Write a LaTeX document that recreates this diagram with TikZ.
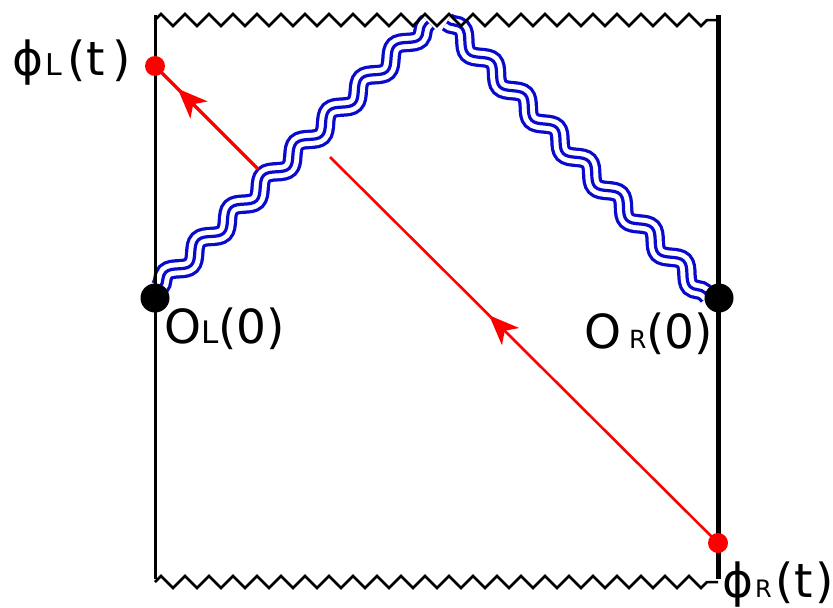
\documentclass[tikz,border=0pt]{standalone}
\usepackage{fontspec}
\setmainfont{DejaVu Sans}
\usetikzlibrary{decorations.pathmorphing,decorations.markings,arrows.meta}
\definecolor{wblue}{RGB}{10,10,205}
\begin{document}
\begin{tikzpicture}[x=1pt,y=-1pt,
 zz/.style={line width=2.5pt, decorate, decoration={zigzag, segment length=24pt, amplitude=6pt}},
 wave/.style={decorate, decoration={snake, segment length=46pt, amplitude=6.5pt}},
 blackdot/.style={circle, fill=black, minimum size=29pt, inner sep=0pt},
 reddot/.style={circle, fill=red, minimum size=20pt, inner sep=0pt},
 lbl/.style={anchor=base west, inner sep=0pt, font=\fontsize{47}{52}\selectfont},
 ray/.style={red, line width=3.5pt},
 midarrow/.style={postaction={decorate}, decoration={markings, mark=at position #1 with {\arrow{Stealth[length=30pt,width=24pt,inset=8pt]}}}}]
\useasboundingbox (0,0) rectangle (833,608);
\clip (0,0) rectangle (833,608);
% shock waves
\coordinate (wl1) at (160,287); \coordinate (wl2) at (428,22);
\coordinate (wr1) at (447,22); \coordinate (wr2) at (708,296);
\foreach \a/\b in {wl1/wl2, wr1/wr2}{
  \draw[wave, line width=19.5pt, wblue] (\a) -- (\b);
  \draw[wave, line width=13pt, white] (\a) -- (\b);
  \draw[wave, line width=3.2pt, wblue] (\a) -- (\b);
}
% boundaries
\coordinate (tzl) at (155,20); \coordinate (tzr) at (718,20);
\coordinate (bzl) at (155,582); \coordinate (bzr) at (718,582);
\coordinate (lt) at (155,15); \coordinate (lb) at (155,579);
\coordinate (rt) at (718,15); \coordinate (rb) at (718,579);
\draw[zz] (tzl) -- (tzr);
\draw[zz] (bzl) -- (bzr);
\draw[line width=3pt] (lt) -- (lb);
\draw[line width=5pt] (rt) -- (rb);
% dots
\node[blackdot] (OL) at (155,298) {};
\node[blackdot] (OR) at (719,298) {};
\node[reddot] (pL) at (155,66) {};
\node[reddot] (pR) at (718,543) {};
% signal
\coordinate (u1) at (258,169);
\coordinate (l1) at (330,157);
\draw[ray, midarrow=0.78] (u1) -- (pL.center);
\draw[ray, line width=2.6pt, midarrow=0.59] (pR.center) -- (l1);
% labels
\node[lbl] (tphiL) at (12,75) {ϕ\kern2pt{\fontsize{30}{32}\selectfont L}\kern6pt(t\kern8pt)};
\node[lbl] (tOL) at (164,343) {O{\fontsize{31}{33}\selectfont L}(0)};
\node[lbl] (tOR) at (584,348) {O\kern8pt{\fontsize{25}{27}\selectfont R}(0)};
\node[lbl] (tphiR) at (722,597) {ϕ\kern2pt{\fontsize{24}{26}\selectfont R}\kern4pt(t\kern3pt)};
\end{tikzpicture}
\end{document}
